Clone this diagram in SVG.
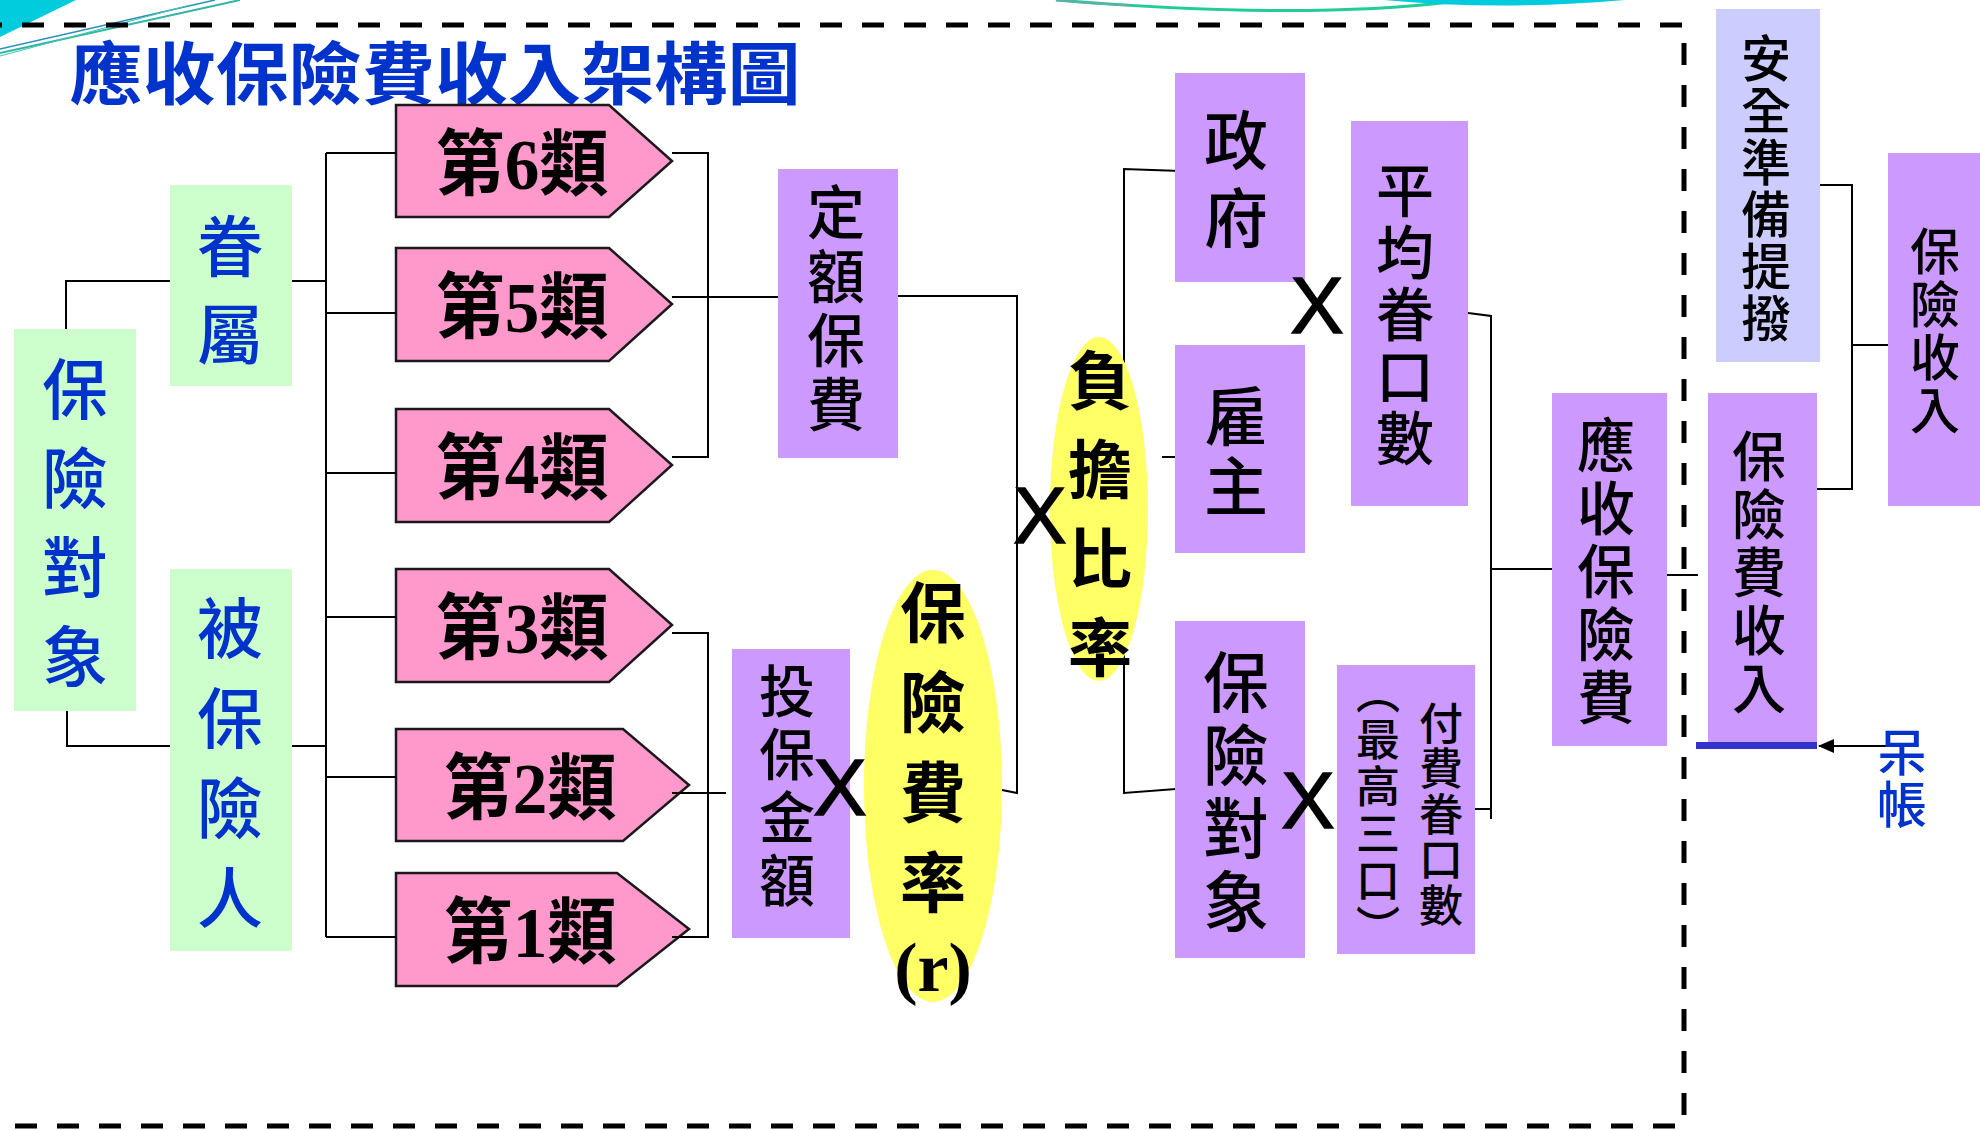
<svg xmlns="http://www.w3.org/2000/svg" width="1980" height="1130" viewBox="0 0 1980 1130">
<defs>
<style>
.bg{fill:#FFFFFF}
.pur{fill:#CC99FF}
.grn{fill:#CCFFCC}
.lav{fill:#CCCCFF}
.yel{fill:#FFFF66}
.pent{fill:#FF99CC;stroke:#1a1a1a;stroke-width:2.5;stroke-linejoin:miter}
.ln{fill:none;stroke:#000;stroke-width:2}
.cj{font-family:"Noto Sans CJK TC","Noto Sans CJK SC",sans-serif;text-anchor:middle;dominant-baseline:central}
.v{font-family:"Noto Sans CJK TC","Noto Sans CJK SC",sans-serif;writing-mode:vertical-rl;text-orientation:upright;text-anchor:middle}
.blk{fill:#000;font-weight:500}
.blu{fill:#0033CC;font-weight:500}
.bold{font-weight:700}
.cls{font-family:"Liberation Serif","Noto Sans CJK TC",serif;font-weight:700;fill:#000;text-anchor:middle;dominant-baseline:central}
.x{font-family:"Liberation Sans",Arial,sans-serif;font-size:80px;fill:#000;stroke:#000;stroke-width:1.5;text-anchor:middle}
</style>
<marker id="arr" viewBox="0 0 16 14" refX="15" refY="7" markerWidth="16" markerHeight="14" markerUnits="userSpaceOnUse" orient="auto">
<path d="M0,0 L16,7 L0,14 Z" fill="#000"/>
</marker>
</defs>
<rect class="bg" x="0" y="0" width="1980" height="1130"/>

<g id="decoration">
<polygon points="0,0 76,0 0,37" fill="#00CCDD"/>
<line x1="0" y1="53" x2="240" y2="0" stroke="#33B5A5" stroke-width="2"/>
<line x1="0" y1="49" x2="215" y2="0" stroke="#2A8FC0" stroke-width="1.5"/>
<line x1="0" y1="56" x2="190" y2="5" stroke="#44C4B0" stroke-width="1.2"/>
<path d="M1056,0 Q1300,20 1450,2" fill="none" stroke="#22CC99" stroke-width="3"/>
<path d="M1056,0 Q1090,4 1130,5" fill="none" stroke="#66AAAA" stroke-width="2"/>
<path d="M1384,0 Q1500,11 1625,0 Z" fill="#00CCDD"/>
</g>

<path id="frame" d="M-20,25 H1684 V1126 H-20" fill="none" stroke="#000" stroke-width="5" stroke-dasharray="22 20"/>

<g id="title">
<text class="cj bold" x="435" y="69" font-size="68" fill="#0033CC" textLength="731" lengthAdjust="spacingAndGlyphs">應收保險費收入架構圖</text>
</g>

<g id="n-baoxian-duixiang-left">
<rect class="grn" x="14" y="329" width="122" height="382"/>
<text class="v blu" x="75" y="534" font-size="66" letter-spacing="23">保險對象</text>
</g>
<g id="n-juanshu">
<rect class="grn" x="170" y="185" width="122" height="201"/>
<text class="v blu" x="230" y="301" font-size="66" letter-spacing="22">眷屬</text>
</g>
<g id="n-beibaoxianren">
<rect class="grn" x="170" y="569" width="122" height="382"/>
<text class="v blu" x="230" y="775" font-size="66" letter-spacing="24">被保險人</text>
</g>

<g id="n-class6">
<polygon class="pent" points="396,105 609,105 672,161 609,217 396,217"/>
<text class="cls" x="522" y="165" font-size="72" textLength="173" lengthAdjust="spacingAndGlyphs">第6類</text>
</g>
<g id="n-class5">
<polygon class="pent" points="396,248 609,248 672,304 609,361 396,361"/>
<text class="cls" x="522" y="308" font-size="72" textLength="173" lengthAdjust="spacingAndGlyphs">第5類</text>
</g>
<g id="n-class4">
<polygon class="pent" points="396,409 609,409 672,465 609,522 396,522"/>
<text class="cls" x="522" y="469" font-size="72" textLength="173" lengthAdjust="spacingAndGlyphs">第4類</text>
</g>
<g id="n-class3">
<polygon class="pent" points="396,569 609,569 672,625 609,682 396,682"/>
<text class="cls" x="522" y="629" font-size="72" textLength="173" lengthAdjust="spacingAndGlyphs">第3類</text>
</g>
<g id="n-class2">
<polygon class="pent" points="396,729 623,729 689,785 623,841 396,841"/>
<text class="cls" x="530" y="789" font-size="72" textLength="173" lengthAdjust="spacingAndGlyphs">第2類</text>
</g>
<g id="n-class1">
<polygon class="pent" points="396,873 617,873 689,929 617,986 396,986"/>
<text class="cls" x="530" y="933" font-size="72" textLength="173" lengthAdjust="spacingAndGlyphs">第1類</text>
</g>

<g id="connectors">
<path class="ln" d="M66,329 V281 H170"/>
<path class="ln" d="M67,711 V746 H170"/>
<path class="ln" d="M292,281 H326"/>
<path class="ln" d="M292,746 H326"/>
<path class="ln" d="M326,153 V937"/>
<path class="ln" d="M326,153 H396 M326,313 H396 M326,473 H396 M326,617 H396 M326,777 H396 M326,937 H396"/>
<path class="ln" d="M672,153 H708 V457 H672"/>
<path class="ln" d="M672,297 H778"/>
<path class="ln" d="M672,633 H708 V937 H672"/>
<path class="ln" d="M672,793 H726"/>
<path class="ln" d="M898,296 H1017 V793 L1002,790"/>
<path class="ln" d="M1181,171 L1124,169 V793 L1176,789"/>
<path class="ln" d="M1162,457 H1181"/>
<path class="ln" d="M1468,313 L1491,316 V819"/>
<path class="ln" d="M1475,809 H1491"/>
<path class="ln" d="M1491,569 H1552"/>
<path class="ln" d="M1667,575 H1698"/>
<path class="ln" d="M1817,185 H1852 V489 H1817"/>
<path class="ln" d="M1852,345 H1888"/>
<path class="ln" d="M1886,746 H1819" marker-end="url(#arr)"/>
</g>

<g id="n-dinge-baofei">
<rect class="pur" x="778" y="169" width="120" height="289"/>
<text class="v blk" x="836" y="311" font-size="58" letter-spacing="6">定額保費</text>
</g>
<g id="n-toubao-jine">
<rect class="pur" x="732" y="649" width="118" height="289"/>
<text class="v blk" x="787" y="789" font-size="56" letter-spacing="7">投保金額</text>
</g>
<g id="n-feilv">
<ellipse class="yel" cx="933" cy="786" rx="69" ry="216"/>
<text class="v blk bold" x="933" y="759" font-size="66" letter-spacing="24">保險費率</text>
<text x="933" y="991" font-family="Liberation Serif,serif" font-weight="700" font-size="70" text-anchor="middle" fill="#000">(r)</text>
</g>
<g id="n-fudan-bilv">
<ellipse class="yel" cx="1099" cy="509" rx="49" ry="172"/>
<text class="v blk bold" x="1100" y="526" font-size="64" letter-spacing="25">負擔比率</text>
</g>
<g id="n-zhengfu">
<rect class="pur" x="1175" y="73" width="130" height="209"/>
<text class="v blk" x="1236" y="186" font-size="64" letter-spacing="14">政府</text>
</g>
<g id="n-guzhu">
<rect class="pur" x="1175" y="345" width="130" height="208"/>
<text class="v blk" x="1236" y="454" font-size="64" letter-spacing="6">雇主</text>
</g>
<g id="n-baoxian-duixiang-right">
<rect class="pur" x="1175" y="621" width="130" height="337"/>
<text class="v blk" x="1236" y="795" font-size="66" letter-spacing="7">保險對象</text>
</g>
<g id="n-pingjun-juankoushu">
<rect class="pur" x="1351" y="121" width="117" height="385"/>
<text class="v blk" x="1405" y="316" font-size="58" letter-spacing="4">平均眷口數</text>
</g>
<g id="n-fufei-juankoushu">
<rect class="pur" x="1337" y="665" width="138" height="289"/>
<text class="v blk" x="1441" y="815" font-size="44" letter-spacing="1.5">付費眷口數</text>
<text class="v blk" x="1378" y="811" font-size="44" letter-spacing="3">︵最高三口︶</text>
</g>
<g id="n-yingshou-baoxianfei">
<rect class="pur" x="1552" y="393" width="115" height="353"/>
<text class="v blk" x="1606" y="573" font-size="58" letter-spacing="5">應收保險費</text>
</g>
<g id="n-baoxianfei-shouru">
<rect class="pur" x="1708" y="393" width="109" height="349"/>
<rect x="1696" y="742" width="121" height="7" fill="#3333CC"/>
<text class="v blk" x="1759" y="574" font-size="54" letter-spacing="4">保險費收入</text>
</g>
<g id="n-anquan-zhunbei">
<rect class="lav" x="1716" y="9" width="104" height="353"/>
<text class="v blk" x="1766" y="189" font-size="50" letter-spacing="2">安全準備提撥</text>
</g>
<g id="n-baoxian-shouru">
<rect class="pur" x="1888" y="153" width="100" height="353"/>
<text class="v blk" x="1935" y="332" font-size="50" letter-spacing="3">保險收入</text>
</g>
<g id="n-daizhang">
<text class="v blu" x="1902" y="779" font-size="50" letter-spacing="2">呆帳</text>
</g>

<g id="operators">
<text class="x" x="840" y="815">X</text>
<text class="x" x="1040" y="543">X</text>
<text class="x" x="1317" y="333">X</text>
<text class="x" x="1308" y="828">X</text>
</g>
</svg>
